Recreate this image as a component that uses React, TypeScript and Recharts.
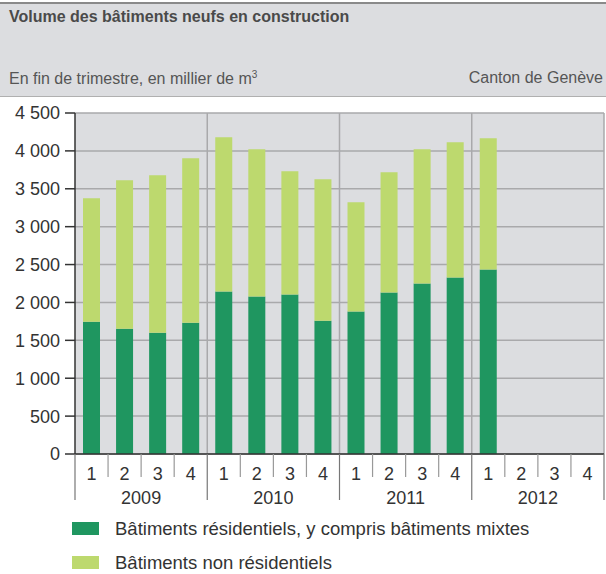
import { BarChart, Bar, XAxis, YAxis, CartesianGrid, Text } from "recharts";

const years = ["2009", "2010", "2011", "2012"];
const quarters = ["1", "2", "3", "4"];
// en millier de m3, null = pas encore publié
const residentiel = [1746, 1654, 1601, 1733, 2143, 2077, 2104, 1760, 1879, 2130, 2249, 2328, 2434, null, null, null];
const total = [3374, 3612, 3678, 3903, 4181, 4022, 3731, 3625, 3321, 3718, 4022, 4115, 4167, null, null, null];
const yTicks = [0, 500, 1000, 1500, 2000, 2500, 3000, 3500, 4000, 4500];

const data = residentiel.map((r, i) => ({
  key: `${years[Math.floor(i / 4)]}-${quarters[i % 4]}`,
  year: years[Math.floor(i / 4)],
  q: quarters[i % 4],
  res: r,
  nonRes: r === null || total[i] === null ? null : (total[i] as number) - r,
}));

const W = 606;
const H = 574;
const PLOT_LEFT = 75;
const PLOT_RIGHT = 604;
const PLOT_TOP = 113;
const PLOT_BOTTOM = 454;
const BW = (PLOT_RIGHT - PLOT_LEFT) / data.length;

const FONT = "Liberation Sans, Arial, Helvetica, sans-serif";
const DARK = "#1f9660";
const LIGHT = "#bdd96e";
const GRID = "#a9a9ab";
const BG = "#dcdde0";

const fmt = (v: number) => String(v).replace(/\B(?=(\d{3})+(?!\d))/g, " ");

const QuarterTick = (props: any) => {
  const { x, index } = props;
  const y = PLOT_BOTTOM;
  const d = data[index];
  const left = x - BW / 2;
  const yearStart = index % 4 === 0;
  return (
    <g>
      <line x1={left} x2={left} y1={y} y2={y + (yearStart ? 46 : 23)} stroke={yearStart ? "#777" : "#999"} strokeWidth={1.2} />
      {index === data.length - 1 && (
        <line x1={left + BW} x2={left + BW} y1={y} y2={y + 46} stroke="#777" strokeWidth={1.2} />
      )}
      <Text x={x} y={y + 20} textAnchor="middle" verticalAnchor="middle" fill="#333" fontSize={18} fontFamily={FONT}>
        {d.q}
      </Text>
      {yearStart && (
        <Text x={left + 2 * BW} y={y + 44} textAnchor="middle" verticalAnchor="middle" fill="#333" fontSize={18} fontFamily={FONT}>
          {d.year}
        </Text>
      )}
    </g>
  );
};

export default function App() {
  return (
    <div style={{ position: "absolute", left: 0, top: 0, width: W, height: H, background: "#fff", fontFamily: FONT }}>
      <div style={{ position: "absolute", left: 0, top: 2, width: W, height: 92, background: BG, borderTop: "2px solid #8a8a8a", borderBottom: "1px solid #b0b0b0" }} />
      <div style={{ position: "absolute", left: 9, top: 8, fontSize: 16, fontWeight: "bold", color: "#4a4a4a" }}>
        Volume des bâtiments neufs en construction
      </div>
      <div style={{ position: "absolute", left: 9, top: 69, fontSize: 16, color: "#555" }}>
        En fin de trimestre, en millier de m<sup style={{ fontSize: 10 }}>3</sup>
      </div>
      <div style={{ position: "absolute", right: 3, top: 69, fontSize: 16, color: "#555" }}>Canton de Genève</div>

      <div style={{ position: "absolute", left: 0, top: 0 }}>
        <BarChart
          width={W}
          height={H}
          data={data}
          barSize={17}
          margin={{ top: PLOT_TOP, left: 0, right: W - PLOT_RIGHT, bottom: 0 }}
        >
          <CartesianGrid
            fill={BG}
            stroke={GRID}
            strokeWidth={1.5}
            verticalCoordinatesGenerator={({ offset }: any) =>
              [1, 2, 3, 4].map((k) => offset.left + (k * offset.width) / 4)
            }
          />
          <XAxis
            dataKey="key"
            interval={0}
            height={H - PLOT_BOTTOM}
            axisLine={{ stroke: "#333", strokeWidth: 1.5 }}
            tickLine={false}
            tick={<QuarterTick />}
          />
          <YAxis
            width={PLOT_LEFT}
            domain={[0, 4500]}
            ticks={yTicks}
            interval={0}
            tickFormatter={fmt}
            tickSize={10}
            tickMargin={5}
            axisLine={{ stroke: "#333", strokeWidth: 1.5 }}
            tickLine={{ stroke: "#333", strokeWidth: 1.5 }}
            tick={{ fill: "#333", fontSize: 18, fontFamily: FONT }}
          />
          <Bar dataKey="res" stackId="a" fill={DARK} isAnimationActive={false} />
          <Bar dataKey="nonRes" stackId="a" fill={LIGHT} isAnimationActive={false} />
        </BarChart>
      </div>

      {[
        { c: DARK, t: "Bâtiments résidentiels, y compris bâtiments mixtes", top: 522 },
        { c: LIGHT, t: "Bâtiments non résidentiels", top: 556 },
      ].map((l) => (
        <div key={l.t} style={{ position: "absolute", left: 72, top: l.top, display: "flex", alignItems: "center" }}>
          <div style={{ width: 27, height: 13, background: l.c }} />
          <div style={{ marginLeft: 16, fontSize: 18.5, color: "#333", lineHeight: "13px" }}>{l.t}</div>
        </div>
      ))}
    </div>
  );
}
